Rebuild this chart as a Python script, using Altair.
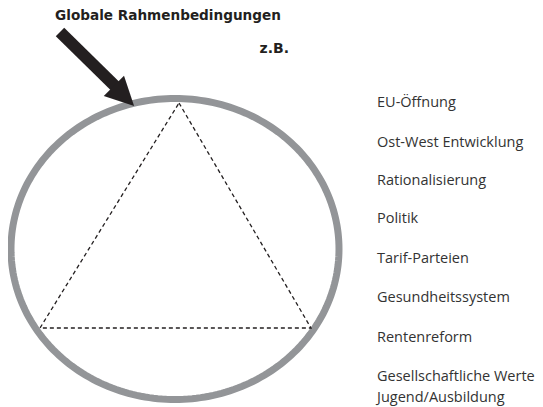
import numpy as np
import pandas as pd
import altair as alt

# ---- content ----
title_text = ["Globale Rahmenbedingungen"]
zb_text = ["z.B."]
factor_labels = ["EU-Öffnung", "Ost-West Entwicklung", "Rationalisierung", "Politik",
                 "Tarif-Parteien", "Gesundheitssystem", "Rentenreform",
                 "Gesellschaftliche Werte", "Jugend/Ausbildung"]
factor_y = [107, 147, 185, 223, 263, 302, 342, 381, 402]
factor_x = [377] * len(factor_labels)

# ---- diagram geometry (image coordinates) ----
ellipse_cx = [175.0]
ellipse_cy = [249.0]
ellipse_rx = [164.0]
ellipse_ry = [150.5]

tri_x = [179, 311, 40, 179]
tri_y = [103, 328, 328, 103]

arrow_x = [60]
arrow_y = [32]
arrow_x2 = [116]
arrow_y2 = [87]
head_x = [124]
head_y = [96]

W, H = 527, 399
xs = alt.Scale(domain=[8, 8 + W], nice=False, zero=False)
ys = alt.Scale(domain=[8 + H, 8], nice=False, zero=False)

t = np.linspace(0, 2 * np.pi, 241)
ell = pd.DataFrame({
    "x": ellipse_cx[0] + ellipse_rx[0] * np.cos(t),
    "y": ellipse_cy[0] + ellipse_ry[0] * np.sin(t),
    "o": np.arange(len(t)),
})
ellipse = alt.Chart(ell).mark_line(color="#939598", strokeWidth=7).encode(
    x=alt.X("x:Q", scale=xs, axis=None),
    y=alt.Y("y:Q", scale=ys, axis=None),
    order="o:Q",
)

tri = pd.DataFrame({"x": tri_x, "y": tri_y, "o": range(len(tri_x))})
triangle = alt.Chart(tri).mark_line(color="#231f20", strokeWidth=1.3, strokeDash=[4, 3]).encode(
    x=alt.X("x:Q", scale=xs, axis=None),
    y=alt.Y("y:Q", scale=ys, axis=None),
    order="o:Q",
)

shaft_df = pd.DataFrame({"x": arrow_x, "y": arrow_y, "x2": arrow_x2, "y2": arrow_y2})
shaft = alt.Chart(shaft_df).mark_rule(color="#231f20", strokeWidth=12, strokeCap="butt").encode(
    x=alt.X("x:Q", scale=xs, axis=None),
    y=alt.Y("y:Q", scale=ys, axis=None),
    x2="x2:Q", y2="y2:Q",
)

head_df = pd.DataFrame({"x": head_x, "y": head_y})
head = alt.Chart(head_df).mark_point(
    shape="M1,0L-1,-1L-1,1Z", filled=True, color="#231f20", opacity=1, size=820, angle=45,
    strokeWidth=0,
).encode(
    x=alt.X("x:Q", scale=xs, axis=None),
    y=alt.Y("y:Q", scale=ys, axis=None),
)

title_df = pd.DataFrame({"t": title_text, "x": [168], "y": [19.5]})
title = alt.Chart(title_df).mark_text(
    font="DejaVu Sans", fontSize=13.6, fontWeight="bold", color="#231f20", align="center", baseline="alphabetic"
).encode(x=alt.X("x:Q", scale=xs, axis=None), y=alt.Y("y:Q", scale=ys, axis=None), text="t:N")

zb_df = pd.DataFrame({"t": zb_text, "x": [289], "y": [52.5]})
zb = alt.Chart(zb_df).mark_text(
    font="DejaVu Sans", fontSize=14, fontWeight="bold", color="#231f20", align="right", baseline="alphabetic"
).encode(x=alt.X("x:Q", scale=xs, axis=None), y=alt.Y("y:Q", scale=ys, axis=None), text="t:N")

lab_df = pd.DataFrame({"t": factor_labels, "x": factor_x, "y": factor_y})
labels = alt.Chart(lab_df).mark_text(
    font="Open Sans", fontSize=14.5, color="#333333", align="left", baseline="alphabetic"
).encode(x=alt.X("x:Q", scale=xs, axis=None), y=alt.Y("y:Q", scale=ys, axis=None), text="t:N")

chart = alt.layer(ellipse, triangle, shaft, head, title, zb, labels).properties(
    width=W, height=H, padding=0, autosize=alt.AutoSizeParams(type="none"),
).configure_view(stroke=None)

chart.save("out.html", embed_options={"renderer": "svg", "actions": False})
